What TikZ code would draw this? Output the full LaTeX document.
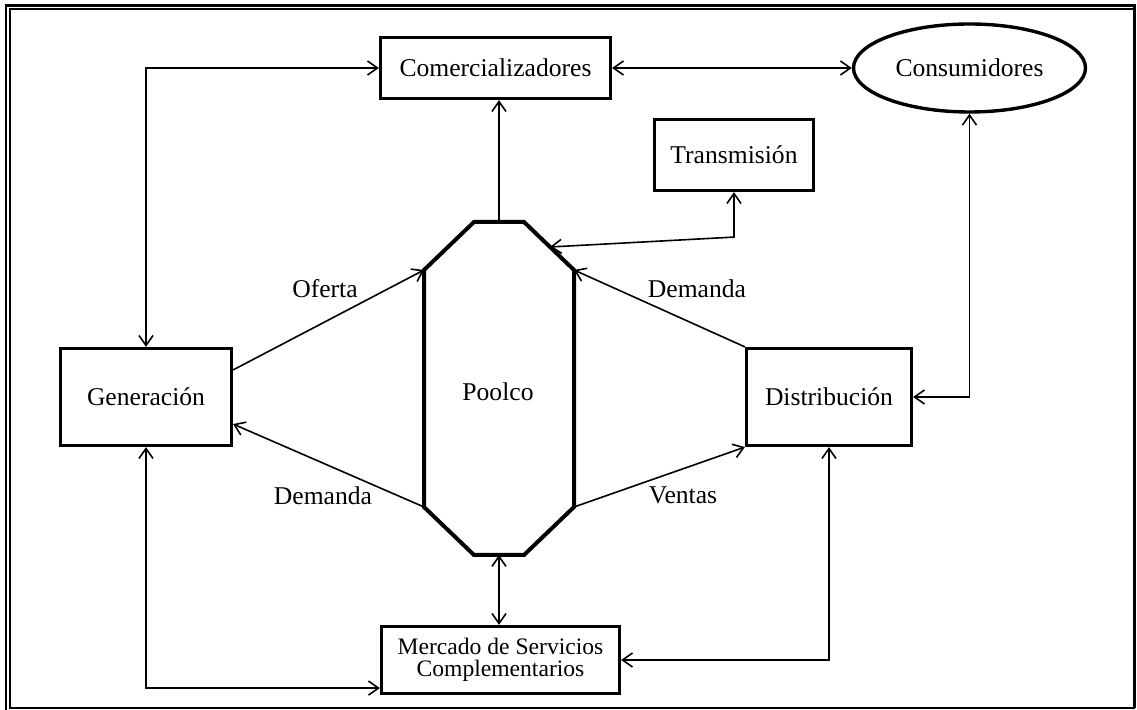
\documentclass[tikz,border=0pt]{standalone}
\usepackage{fontspec}
\setmainfont{Liberation Serif}
\usetikzlibrary{arrows.meta,calc,shapes.geometric}

\begin{document}
\begin{tikzpicture}[
  x=0.5pt,
  y=-0.5pt,
  line join=miter,
  >={Straight Barb[length=5pt,width=7pt]},
  flow/.style={line width=0.8pt},
  agent box/.style={draw,line width=1.7pt,rectangle,inner sep=0pt,align=center},
  agent oval/.style={draw,line width=1.7pt,ellipse,inner sep=0pt},
  label text/.style={font=\fontsize{12.8}{15}\selectfont},
  every node/.style={text=black,font=\fontsize{12.8}{15}\selectfont}
]
\useasboundingbox (0,0) rectangle (1137,710);

% Page frame, the right and bottom outer lines fall off the page.
\draw[line width=1.3pt] (5.8,710) -- (5.8,5.3) -- (1134.5,5.3) -- (1134.5,708);
\draw[line width=0.9pt] (1134.5,708) -- (10.2,708) -- (10.2,9.2) -- (1134.5,9.2);

% Market agents.
\node[agent box,minimum width=114.9pt,minimum height=30.4pt] (com) at (495.5,68) {Comercializadores};
\node[agent oval,minimum width=116pt,minimum height=44pt] (cons) at (969.5,68) {Consumidores};
\node[agent box,minimum width=79.4pt,minimum height=35.4pt] (trans) at (734,155) {Transmisión};
\node[agent box,minimum width=85.4pt,minimum height=48.4pt] (gen) at (146,397) {Generación};
\node[agent box,minimum width=82.4pt,minimum height=48.4pt] (dist) at (829,397) {Distribución};
\node[agent box,minimum width=118.9pt,minimum height=33.4pt,
  font=\fontsize{11.8}{11.2}\selectfont] (merc) at (500.5,660)
  {Mercado de Servicios\\Complementarios};

% The pool: an elongated octagon.
\coordinate (pT1) at (474,222);
\coordinate (pT2) at (524,222);
\coordinate (pUR) at (574,270);
\coordinate (pLR) at (574,507);
\coordinate (pB2) at (524,555);
\coordinate (pB1) at (474,555);
\coordinate (pLL) at (424,507);
\coordinate (pUL) at (424,270);
\coordinate (pTop) at (499,222);
\coordinate (pBot) at (499,555);
\coordinate (pIn) at (550,247);
\draw[line width=2pt] (pT1) -- (pT2) -- (pUR) -- (pLR) -- (pB2) -- (pB1)
  -- (pLL) -- (pUL) -- cycle;
\node (poolco) at (498,392) {Poolco};

% Flows between the agents and the pool.
\draw[flow,<->] (gen.north) |- (com.west);
\draw[flow,<->] (com.east) -- (com.east -| cons.west);
\draw[flow,->] (pTop) -- (pTop |- com.south);
\coordinate (tBend) at ($(trans.south)+(0,45)$);
\draw[flow,<->] (trans.south) -- (tBend) -- (pIn);
\draw[flow,->] ($(gen.north east)!0.23!(gen.south east)$) -- (pUL);
\draw[flow,->] (pLL) -- ($(gen.north east)!0.77!(gen.south east)$);
\draw[flow,->] (dist.north west) -- (pUR);
\draw[flow,->] (pLR) -- (dist.south west);
\draw[flow,<->] (pBot) -- (pBot |- merc.north);
\draw[flow,<->] (gen.south) |- ($(merc.south west)+(0,-7)$);
\draw[flow,<->] (dist.south) |- (merc.east);
\draw[flow,<->] (cons.south) |- (dist.east);

% Flow labels.
\node[label text] (oferta) at (325,289) {Oferta};
\node[label text] (demGen) at (323,496) {Demanda};
\node[label text] (demDist) at (697,289) {Demanda};
\node[label text] (ventas) at (683,495) {Ventas};

\end{tikzpicture}
\end{document}
